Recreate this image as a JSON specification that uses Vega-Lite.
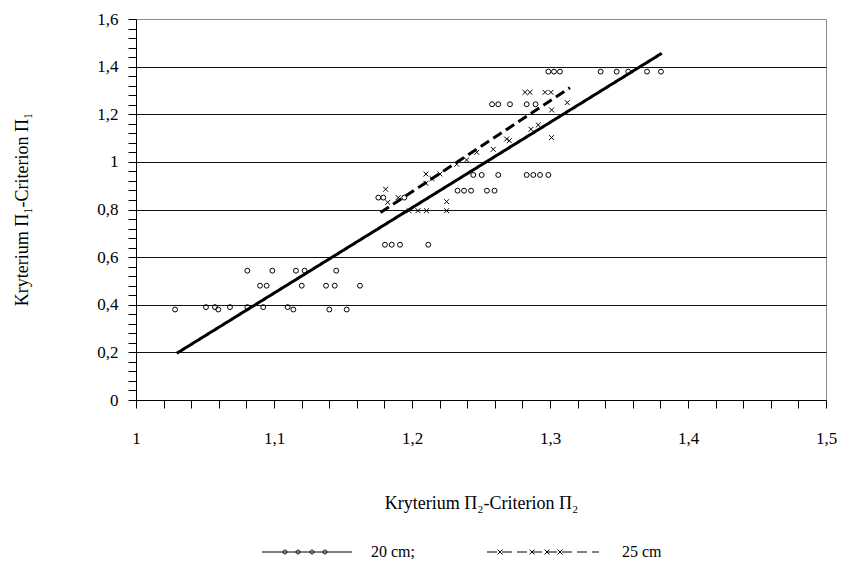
{
  "$schema": "https://vega.github.io/schema/vega-lite/v6.json",
  "width": 690,
  "height": 381,
  "autosize": {"type": "none"},
  "padding": {"left": 136, "top": 19, "right": 20, "bottom": 169},
  "background": "white",
  "config": {
    "font": "Liberation Serif, Times New Roman, serif",
    "view": {"stroke": "#8c8c8c", "strokeWidth": 1},
    "axis": {
      "domainColor": "black", "domainWidth": 1, "tickColor": "black", "tickWidth": 1,
      "labelColor": "black", "titleColor": "black",
      "labelFont": "Liberation Serif, Times New Roman, serif", "titleFont": "Liberation Serif, Times New Roman, serif",
      "labelFontSize": 17, "titleFontSize": 18, "titleFontWeight": "normal"
    },
    "legend": {"labelFont": "Liberation Serif, Times New Roman, serif"}
  },
  "datasets": {
    "obs": [
      {"x": 1.0283, "y": 0.38, "series": "20 cm"},
      {"x": 1.0507, "y": 0.39, "series": "20 cm"},
      {"x": 1.0572, "y": 0.39, "series": "20 cm"},
      {"x": 1.0596, "y": 0.38, "series": "20 cm"},
      {"x": 1.0681, "y": 0.39, "series": "20 cm"},
      {"x": 1.0807, "y": 0.39, "series": "20 cm"},
      {"x": 1.0922, "y": 0.39, "series": "20 cm"},
      {"x": 1.1099, "y": 0.39, "series": "20 cm"},
      {"x": 1.1140, "y": 0.38, "series": "20 cm"},
      {"x": 1.1401, "y": 0.38, "series": "20 cm"},
      {"x": 1.1527, "y": 0.38, "series": "20 cm"},
      {"x": 1.0899, "y": 0.48, "series": "20 cm"},
      {"x": 1.0947, "y": 0.48, "series": "20 cm"},
      {"x": 1.1201, "y": 0.48, "series": "20 cm"},
      {"x": 1.1377, "y": 0.48, "series": "20 cm"},
      {"x": 1.1440, "y": 0.48, "series": "20 cm"},
      {"x": 1.1623, "y": 0.48, "series": "20 cm"},
      {"x": 1.0807, "y": 0.543, "series": "20 cm"},
      {"x": 1.0988, "y": 0.543, "series": "20 cm"},
      {"x": 1.1159, "y": 0.543, "series": "20 cm"},
      {"x": 1.1222, "y": 0.543, "series": "20 cm"},
      {"x": 1.1451, "y": 0.543, "series": "20 cm"},
      {"x": 1.1804, "y": 0.652, "series": "20 cm"},
      {"x": 1.1853, "y": 0.652, "series": "20 cm"},
      {"x": 1.1913, "y": 0.652, "series": "20 cm"},
      {"x": 1.2118, "y": 0.652, "series": "20 cm"},
      {"x": 1.1756, "y": 0.85, "series": "20 cm"},
      {"x": 1.1792, "y": 0.85, "series": "20 cm"},
      {"x": 1.1944, "y": 0.85, "series": "20 cm"},
      {"x": 1.2330, "y": 0.879, "series": "20 cm"},
      {"x": 1.2377, "y": 0.879, "series": "20 cm"},
      {"x": 1.2428, "y": 0.879, "series": "20 cm"},
      {"x": 1.2543, "y": 0.879, "series": "20 cm"},
      {"x": 1.2598, "y": 0.879, "series": "20 cm"},
      {"x": 1.2444, "y": 0.945, "series": "20 cm"},
      {"x": 1.2505, "y": 0.945, "series": "20 cm"},
      {"x": 1.2625, "y": 0.945, "series": "20 cm"},
      {"x": 1.2831, "y": 0.945, "series": "20 cm"},
      {"x": 1.2879, "y": 0.945, "series": "20 cm"},
      {"x": 1.2928, "y": 0.945, "series": "20 cm"},
      {"x": 1.2988, "y": 0.945, "series": "20 cm"},
      {"x": 1.2580, "y": 1.242, "series": "20 cm"},
      {"x": 1.2625, "y": 1.242, "series": "20 cm"},
      {"x": 1.2710, "y": 1.242, "series": "20 cm"},
      {"x": 1.2831, "y": 1.242, "series": "20 cm"},
      {"x": 1.2895, "y": 1.242, "series": "20 cm"},
      {"x": 1.2988, "y": 1.379, "series": "20 cm"},
      {"x": 1.3029, "y": 1.379, "series": "20 cm"},
      {"x": 1.3072, "y": 1.379, "series": "20 cm"},
      {"x": 1.3367, "y": 1.379, "series": "20 cm"},
      {"x": 1.3483, "y": 1.379, "series": "20 cm"},
      {"x": 1.3567, "y": 1.379, "series": "20 cm"},
      {"x": 1.3703, "y": 1.379, "series": "20 cm"},
      {"x": 1.3804, "y": 1.379, "series": "20 cm"},
      {"x": 1.1809, "y": 0.885, "series": "25 cm"},
      {"x": 1.1824, "y": 0.830, "series": "25 cm"},
      {"x": 1.1900, "y": 0.850, "series": "25 cm"},
      {"x": 1.1978, "y": 0.795, "series": "25 cm"},
      {"x": 1.2043, "y": 0.795, "series": "25 cm"},
      {"x": 1.2105, "y": 0.795, "series": "25 cm"},
      {"x": 1.2251, "y": 0.795, "series": "25 cm"},
      {"x": 1.2251, "y": 0.833, "series": "25 cm"},
      {"x": 1.2101, "y": 0.949, "series": "25 cm"},
      {"x": 1.2101, "y": 0.910, "series": "25 cm"},
      {"x": 1.2203, "y": 0.949, "series": "25 cm"},
      {"x": 1.2145, "y": 0.930, "series": "25 cm"},
      {"x": 1.2324, "y": 0.990, "series": "25 cm"},
      {"x": 1.2396, "y": 1.008, "series": "25 cm"},
      {"x": 1.2469, "y": 1.040, "series": "25 cm"},
      {"x": 1.2589, "y": 1.053, "series": "25 cm"},
      {"x": 1.2686, "y": 1.096, "series": "25 cm"},
      {"x": 1.2705, "y": 1.089, "series": "25 cm"},
      {"x": 1.2862, "y": 1.137, "series": "25 cm"},
      {"x": 1.2915, "y": 1.155, "series": "25 cm"},
      {"x": 1.3011, "y": 1.102, "series": "25 cm"},
      {"x": 1.3012, "y": 1.218, "series": "25 cm"},
      {"x": 1.2819, "y": 1.292, "series": "25 cm"},
      {"x": 1.2855, "y": 1.292, "series": "25 cm"},
      {"x": 1.2964, "y": 1.292, "series": "25 cm"},
      {"x": 1.3007, "y": 1.292, "series": "25 cm"},
      {"x": 1.3125, "y": 1.249, "series": "25 cm"}
    ],
    "fit": [
      {"x": 1.0295, "y": 0.196, "group": "20 cm;"},
      {"x": 1.381, "y": 1.456, "group": "20 cm;"},
      {"x": 1.1772, "y": 0.787, "group": "25 cm"},
      {"x": 1.3145, "y": 1.311, "group": "25 cm"}
    ]
  },
  "encoding": {
    "x": {
      "field": "x", "type": "quantitative",
      "scale": {"domain": [1, 1.5], "nice": false, "zero": false},
      "axis": {
        "title": "Kryterium Π₂-Criterion Π₂",
        "values": [1, 1.02, 1.04, 1.06, 1.08, 1.1, 1.12, 1.14, 1.16, 1.18, 1.2, 1.22, 1.24, 1.26, 1.28, 1.3, 1.32, 1.34, 1.36, 1.38, 1.4, 1.42, 1.44, 1.46, 1.48, 1.5],
        "labelExpr": "abs(datum.value*10 - round(datum.value*10)) < 0.001 ? replace(toString(round(datum.value*10)/10), '.', ',') : ''",
        "grid": false,
        "tickSize": 8,
        "labelPadding": 22,
        "labelFlush": false,
        "labelOverlap": false,
        "titleY": 103,
        "titleBaseline": "middle"
      }
    },
    "y": {
      "field": "y", "type": "quantitative",
      "scale": {"domain": [0, 1.6], "nice": false, "zero": true},
      "axis": {
        "title": "Kryterium Π₁-Criterion Π₁",
        "values": [0, 0.04, 0.08, 0.12, 0.16, 0.2, 0.24, 0.28, 0.32, 0.36, 0.4, 0.44, 0.48, 0.52, 0.56, 0.6, 0.64, 0.68, 0.72, 0.76, 0.8, 0.84, 0.88, 0.92, 0.96, 1, 1.04, 1.08, 1.12, 1.16, 1.2, 1.24, 1.28, 1.32, 1.36, 1.4, 1.44, 1.48, 1.52, 1.56, 1.6],
        "labelExpr": "abs(datum.value*5 - round(datum.value*5)) < 0.001 ? replace(toString(round(datum.value*10)/10), '.', ',') : ''",
        "grid": true,
        "gridColor": {"condition": {"test": "abs(datum.value*5 - round(datum.value*5)) < 0.001 && datum.value > 0.01 && datum.value < 1.59", "value": "#111111"}, "value": "rgba(0,0,0,0)"},
        "gridWidth": 1.2,
        "tickSize": 8,
        "labelPadding": 10,
        "labelFlush": false,
        "labelOverlap": false,
        "titleX": -114,
        "titleY": 190,
        "titleBaseline": "middle"
      }
    }
  },
  "layer": [
    {
      "data": {"name": "obs"},
      "mark": {"type": "point", "filled": false, "color": "black", "strokeWidth": 1, "size": 24, "opacity": 1},
      "encoding": {
        "shape": {
          "field": "series", "type": "nominal",
          "scale": {"domain": ["20 cm", "25 cm"], "range": ["circle", "M-1,-1L1,1M-1,1L1,-1"]},
          "legend": null
        }
      }
    },
    {
      "data": {"name": "fit"},
      "mark": {"type": "line", "color": "black", "strokeWidth": 3},
      "encoding": {
        "strokeDash": {
          "field": "group", "type": "nominal",
          "scale": {"domain": ["20 cm;", "25 cm"], "range": [[1, 0], [10, 5]]},
          "legend": {
            "orient": "none", "legendX": 126, "legendY": 525,
            "direction": "horizontal", "title": null, "padding": 0,
            "columnPadding": 70,
            "labelFont": "Liberation Serif, Times New Roman, serif", "labelFontSize": 16, "labelColor": "black",
            "symbolSize": 100, "symbolStrokeWidth": 1, "symbolStrokeColor": "black", "symbolFillColor": "white",
            "encode": {
              "symbols": {
                "update": {
                  "shape": {"signal": "datum.value === '20 cm;' ? 'M-1.6,0H16.4M2.6,0a0.4,0.4 0 1,0 0.8,0a0.4,0.4 0 1,0 -0.8,0M5.2,0a0.4,0.4 0 1,0 0.8,0a0.4,0.4 0 1,0 -0.8,0M8,0a0.4,0.4 0 1,0 0.8,0a0.4,0.4 0 1,0 -0.8,0M10.6,0a0.4,0.4 0 1,0 0.8,0a0.4,0.4 0 1,0 -0.8,0' : 'M-1.6,0H20.8M0.5,-0.5L1.5,0.5M0.5,0.5L1.5,-0.5M6.9,-0.5L7.9,0.5M6.9,0.5L7.9,-0.5M9.9,-0.5L10.9,0.5M9.9,0.5L10.9,-0.5M12.5,-0.5L13.5,0.5M12.5,0.5L13.5,-0.5'"},
                  "size": {"value": 100},
                  "strokeWidth": {"value": 1},
                  "stroke": {"value": "black"},
                  "fill": {"value": "white"}
                }
              },
              "labels": {
                "update": {"x": {"signal": "datum.value === '20 cm;' ? 109 : 135"}}
              }
            }
          }
        }
      }
    }
  ]
}
